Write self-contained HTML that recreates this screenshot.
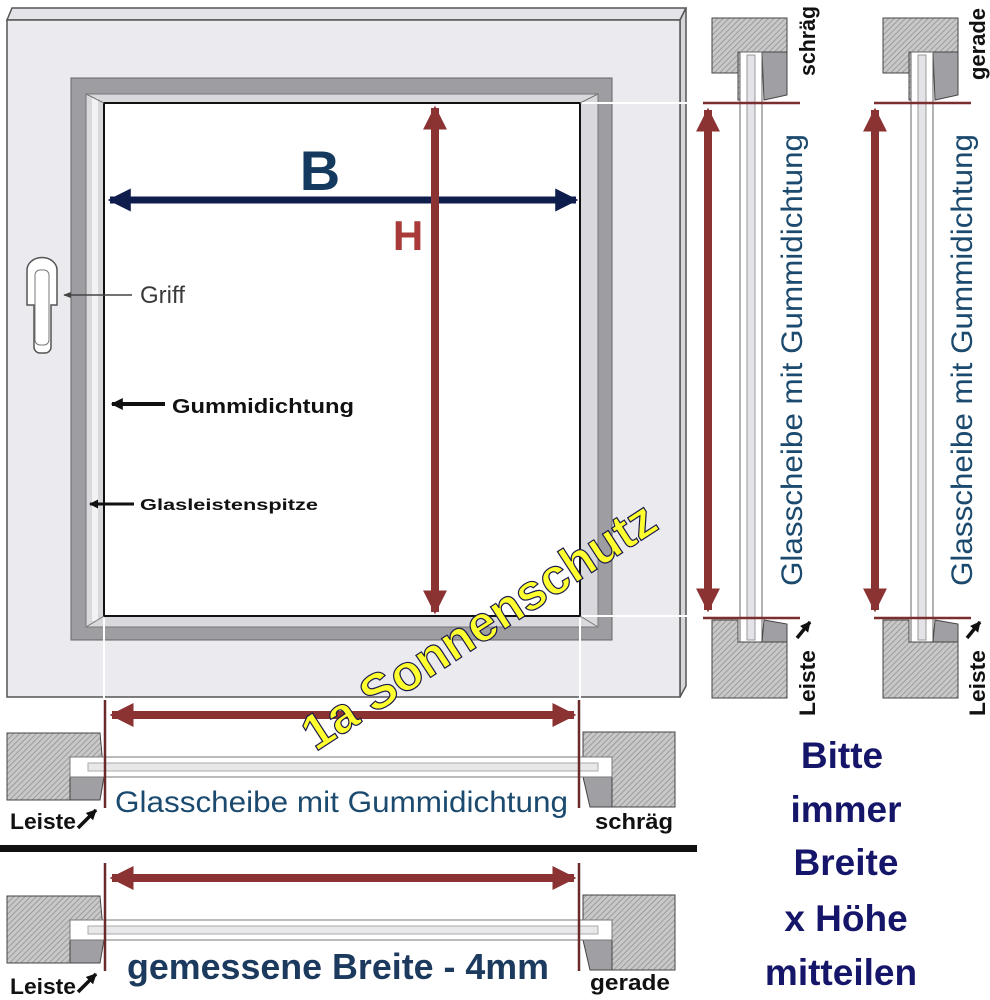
<!DOCTYPE html>
<html><head><meta charset="utf-8"><style>
html,body{margin:0;padding:0;background:#fff}
svg{display:block}
text{font-family:"Liberation Sans",Arial,sans-serif}
</style></head><body>
<svg width="990" height="1000" viewBox="0 0 990 1000" xmlns="http://www.w3.org/2000/svg">
<defs>
<pattern id="h" width="4" height="4" patternUnits="userSpaceOnUse" patternTransform="rotate(45)">
<rect width="4" height="4" fill="#c8c8c8"/><line x1="0" y1="0" x2="0" y2="4" stroke="#8a8a8a" stroke-width="1.4"/>
</pattern>
<marker id="rh" viewBox="0 0 10 10" refX="9" refY="5" markerWidth="3" markerHeight="3" orient="auto-start-reverse"><path d="M0,0L10,5L0,10z" fill="#8b3232"/></marker>
<marker id="bh" viewBox="0 0 10 10" refX="9" refY="5" markerWidth="3.3" markerHeight="3.3" orient="auto-start-reverse"><path d="M0,0L10,5L0,10z" fill="#0e1d4c"/></marker>
<marker id="kh" viewBox="0 0 10 10" refX="9" refY="5" markerWidth="3" markerHeight="3" orient="auto-start-reverse"><path d="M0,0L10,5L0,10z" fill="#111"/></marker>
<marker id="gh" viewBox="0 0 10 10" refX="9" refY="5" markerWidth="5" markerHeight="5" orient="auto-start-reverse"><path d="M0,1L10,5L0,9z" fill="#444"/></marker>
</defs>

<polygon points="7,20 12,8 686,8 680,20" fill="#e4e4e8" stroke="#555" stroke-width="1.5"/>
<polygon points="680,20 686,8 686,686 680,697" fill="#d6d6da" stroke="#555" stroke-width="1.5"/>
<rect x="7" y="20" width="673" height="677" fill="#ebebef" stroke="#555" stroke-width="1.5"/>
<rect x="71" y="78" width="541" height="562" fill="#9d9da2" stroke="#666"/>
<rect x="86" y="94" width="512" height="533" fill="#d9d9dd" stroke="#777"/>
<rect x="92" y="98" width="6" height="523" fill="#f2f2f4"/>
<rect x="104" y="103" width="476" height="513" fill="#fff" stroke="#111" stroke-width="2"/>
<line x1="86" y1="94" x2="104" y2="103" stroke="#777"/>
<line x1="598" y1="94" x2="580" y2="103" stroke="#777"/>
<line x1="86" y1="627" x2="104" y2="616" stroke="#777"/>
<line x1="598" y1="627" x2="580" y2="616" stroke="#777"/>

<g stroke="#fff" stroke-width="2">
<line x1="582" y1="103" x2="698" y2="103"/><line x1="582" y1="616" x2="698" y2="616"/>
<line x1="104" y1="618" x2="104" y2="700"/><line x1="580" y1="618" x2="580" y2="700"/>
</g>

<path d="M27,270 a12,10 0 0 1 30,0 v35 h-6 v42 a6,6 0 0 1 -6,6 h-5 a6,6 0 0 1 -6,-6 v-42 h-7z" fill="#fff" stroke="#555" stroke-width="1.5"/>
<rect x="35" y="270" width="14" height="75" rx="5" fill="#fff" stroke="#777"/>
<line x1="132" y1="295" x2="64" y2="295" stroke="#444" stroke-width="1.5" marker-end="url(#gh)"/>
<text x="140" y="303" font-size="24" fill="#3a3a3a">Griff</text>

<line x1="165" y1="404" x2="112" y2="404" stroke="#111" stroke-width="4" marker-end="url(#kh)"/>
<text x="172" y="413" font-size="20" font-weight="bold" fill="#111" textLength="182" lengthAdjust="spacingAndGlyphs">Gummidichtung</text>
<line x1="134" y1="504" x2="90" y2="504" stroke="#111" stroke-width="3" marker-end="url(#kh)"/>
<text x="140" y="510" font-size="16" font-weight="bold" fill="#111" textLength="178" lengthAdjust="spacingAndGlyphs">Glasleistenspitze</text>

<line x1="110" y1="200" x2="576" y2="200" stroke="#0e1d4c" stroke-width="7" marker-start="url(#bh)" marker-end="url(#bh)"/>
<text x="320" y="190" font-size="56" font-weight="bold" fill="#143a5f" text-anchor="middle">B</text>
<line x1="435" y1="108" x2="435" y2="612" stroke="#8b3232" stroke-width="8" marker-start="url(#rh)" marker-end="url(#rh)"/>
<text x="408" y="250" font-size="42" font-weight="bold" fill="#a83a3a" text-anchor="middle">H</text>

<g id="cs">
<path d="M712,18 H787 V73 H760 V70 H740 V73 L712,73 Z" fill="url(#h)" stroke="#444"/>
<polygon points="738,52 787,52 787,73 760,73 760,100 738,100" fill="url(#h)" stroke="#444"/>
<polygon points="762,52 787,52 787,95 764,100" fill="#a0a0a4" stroke="#444"/>
<rect x="740" y="52" width="22" height="590" fill="#fff" stroke="#666"/>
<rect x="747" y="55" width="8" height="585" fill="#e4e4e8" stroke="#999"/>
<polygon points="712,620 738,620 738,642 787,642 787,698 712,698" fill="url(#h)" stroke="#444"/>
<polygon points="764,620 787,624 787,642 762,642" fill="#a0a0a4" stroke="#444"/>
<line x1="703" y1="103" x2="800" y2="103" stroke="#7a2e2e" stroke-width="2.5"/>
<line x1="703" y1="618" x2="800" y2="618" stroke="#7a2e2e" stroke-width="2.5"/>
</g>
<line x1="708" y1="110" x2="708" y2="610" stroke="#8b3232" stroke-width="8" marker-start="url(#rh)" marker-end="url(#rh)"/>
<text transform="translate(802,360) rotate(-90)" font-size="30" fill="#1b4a6e" text-anchor="middle" textLength="452" lengthAdjust="spacingAndGlyphs">Glasscheibe mit Gummidichtung</text>
<text transform="translate(815,76) rotate(-90)" font-size="22" font-weight="bold" fill="#111" textLength="70" lengthAdjust="spacingAndGlyphs">schräg</text>
<text transform="translate(815,716) rotate(-90)" font-size="22" font-weight="bold" fill="#111" textLength="66" lengthAdjust="spacingAndGlyphs">Leiste</text>
<line x1="797" y1="638" x2="810" y2="622" stroke="#111" stroke-width="3.5" marker-end="url(#kh)"/>

<use href="#cs" transform="translate(171,0)"/>
<line x1="875" y1="110" x2="875" y2="610" stroke="#8b3232" stroke-width="8" marker-start="url(#rh)" marker-end="url(#rh)"/>
<text transform="translate(972,360) rotate(-90)" font-size="30" fill="#1b4a6e" text-anchor="middle" textLength="452" lengthAdjust="spacingAndGlyphs">Glasscheibe mit Gummidichtung</text>
<text transform="translate(985,80) rotate(-90)" font-size="22" font-weight="bold" fill="#111" textLength="72" lengthAdjust="spacingAndGlyphs">gerade</text>
<text transform="translate(985,716) rotate(-90)" font-size="22" font-weight="bold" fill="#111" textLength="66" lengthAdjust="spacingAndGlyphs">Leiste</text>
<line x1="967" y1="638" x2="980" y2="622" stroke="#111" stroke-width="3.5" marker-end="url(#kh)"/>

<g id="bs">
<polygon points="7,733 100,733 104,777 70,777 70,800 7,800" fill="url(#h)" stroke="#444"/>
<polygon points="70,777 104,777 100,800 70,800" fill="#a0a0a4" stroke="#444"/>
<polygon points="583,732 675,732 675,807 612,807 612,777 583,777" fill="url(#h)" stroke="#444"/>
<polygon points="583,777 612,777 612,807 590,807" fill="#a0a0a4" stroke="#444"/>
<rect x="70" y="757" width="542" height="20" fill="#fff" stroke="#777"/>
<rect x="88" y="763" width="510" height="8" fill="#e8e8ea" stroke="#aaa"/>
<line x1="105" y1="700" x2="105" y2="808" stroke="#6a2a2a" stroke-width="2.5"/>
<line x1="579" y1="700" x2="579" y2="808" stroke="#6a2a2a" stroke-width="2.5"/>
</g>
<line x1="112" y1="715" x2="574" y2="715" stroke="#8b3232" stroke-width="8" marker-start="url(#rh)" marker-end="url(#rh)"/>
<text x="115" y="812" font-size="30" fill="#1b4a6e" textLength="453" lengthAdjust="spacingAndGlyphs">Glasscheibe mit Gummidichtung</text>
<text x="10" y="829" font-size="22" font-weight="bold" fill="#111" textLength="66" lengthAdjust="spacingAndGlyphs">Leiste</text>
<line x1="78" y1="828" x2="96" y2="810" stroke="#111" stroke-width="3.5" marker-end="url(#kh)"/>
<text x="595" y="829" font-size="22" font-weight="bold" fill="#111" textLength="78" lengthAdjust="spacingAndGlyphs">schräg</text>

<rect x="0" y="845" width="697" height="7" fill="#111"/>

<use href="#bs" transform="translate(0,163)"/>
<line x1="112" y1="878" x2="574" y2="878" stroke="#8b3232" stroke-width="8" marker-start="url(#rh)" marker-end="url(#rh)"/>
<text x="127" y="979" font-size="36" font-weight="bold" fill="#1b3a5e" textLength="422" lengthAdjust="spacingAndGlyphs">gemessene Breite - 4mm</text>
<text x="10" y="994" font-size="22" font-weight="bold" fill="#111" textLength="66" lengthAdjust="spacingAndGlyphs">Leiste</text>
<line x1="78" y1="992" x2="96" y2="974" stroke="#111" stroke-width="3.5" marker-end="url(#kh)"/>
<text x="590" y="990" font-size="22" font-weight="bold" fill="#111" textLength="80" lengthAdjust="spacingAndGlyphs">gerade</text>

<g font-size="37" font-weight="bold" fill="#15156a" text-anchor="middle">
<text x="842" y="768">Bitte</text>
<text x="846" y="822">immer</text>
<text x="846" y="875">Breite</text>
<text x="846" y="931">x Höhe</text>
<text x="841" y="985">mitteilen</text>
</g>

<text transform="translate(488,640) rotate(-33)" font-size="50" font-weight="bold" fill="#ffff30" stroke="#1a1a4a" stroke-width="1.2" text-anchor="middle">1a Sonnenschutz</text>
</svg>
</body></html>
